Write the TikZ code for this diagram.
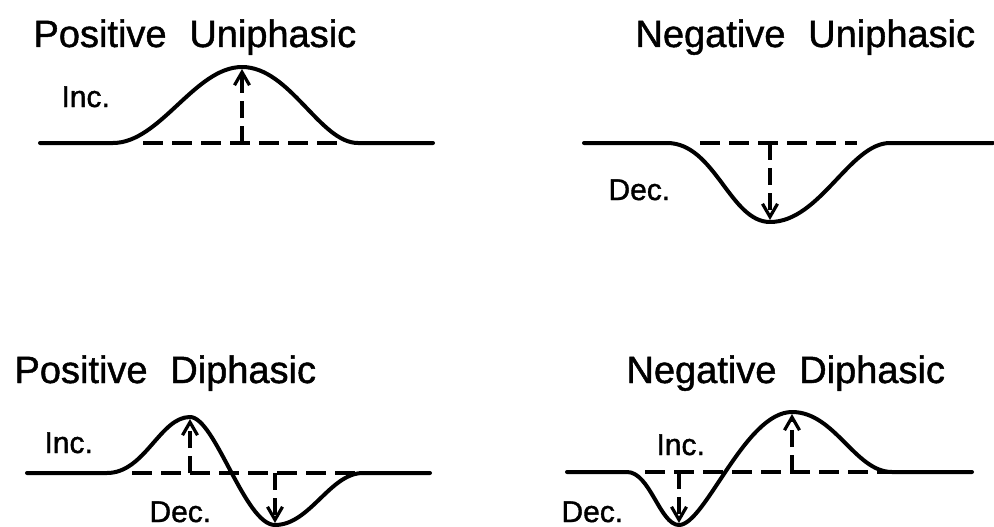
\documentclass[tikz,border=0pt]{standalone}
\usepackage{fontspec}
\setmainfont{Liberation Sans}[FakeBold=1.2]
\usetikzlibrary{arrows.meta,positioning}
\tikzset{every picture/.style={line width=3pt}}
\tikzset{
  trace/.style={line width=4pt,line join=round,line cap=round},
  zero/.style={line width=3.8pt,dash pattern=on 20pt off 9pt},
  amp/.style={line width=3.2pt,dash pattern=on 17pt off 8pt,
    -{Straight Barb[length=13pt,width=15pt,line width=3.2pt]}},
  title/.style={anchor=base west,inner sep=0pt,font=\fontsize{38}{44}\selectfont},
  lbl/.style={anchor=base west,inner sep=0pt,text depth=0pt,font=\fontsize{30}{34}\selectfont},
}

\begin{document}
\begin{tikzpicture}[x=1pt,y=-1pt]
    \useasboundingbox (0,0) rectangle (994,527);

    % Positive uniphasic
    \node[title] (pu-title) at (32,47) {Positive\hspace{0.6em}Uniphasic};
    \node[lbl] (pu-inc) at (60,107) {Inc.};
    \draw[trace] (40,143) -- (113,143)
        .. controls (160,143) and (195,67) .. (242,67)
        .. controls (290,67) and (320,143) .. (358,143) -- (433,143);
    \draw[zero] (143,143) -- (338,143);
    \coordinate (pu-base) at (242,143);
    \coordinate (pu-peak) at (242,69);
    \draw[amp] (pu-base) -- (pu-peak);

    % Negative uniphasic
    \node[title] (nu-title) at (634,47) {Negative\hspace{0.6em}Uniphasic};
    \node[lbl] (nu-dec) at (607,200) {Dec.};
    \draw[trace] (584,143) -- (667,143)
        .. controls (715,143) and (730,222) .. (770,222)
        .. controls (820,222) and (850,143) .. (890,143) -- (993,143);
    \draw[zero] (700,143) -- (857,143);
    \coordinate (nu-base) at (770,143);
    \coordinate (nu-peak) at (770,220);
    \draw[amp] (nu-base) -- (nu-peak);

    % Positive diphasic
    \node[title] (pd-title) at (13,383) {Positive\hspace{0.6em}Diphasic};
    \node[lbl] (pd-inc) at (43,453) {Inc.};
    \node[lbl] (pd-dec) at (148,522) {Dec.};
    \draw[trace] (27,473) -- (107,473)
        .. controls (145,473) and (160,417) .. (190,417)
        .. controls (215,417) and (245,525) .. (275,525)
        .. controls (310,525) and (330,473) .. (363,473) -- (430,473);
    \draw[zero] (132,473) -- (357,473);
    \coordinate (pd-base1) at (190,473);
    \coordinate (pd-peak1) at (190,419);
    \coordinate (pd-base2) at (275,473);
    \coordinate (pd-peak2) at (275,523);
    \draw[amp] (pd-base1) -- (pd-peak1);
    \draw[amp] (pd-base2) -- (pd-peak2);

    % Negative diphasic
    \node[title] (nd-title) at (625,383) {Negative\hspace{0.6em}Diphasic};
    \node[lbl] (nd-inc) at (655,455) {Inc.};
    \node[lbl] (nd-dec) at (560,522) {Dec.};
    \draw[trace] (567,472) -- (627,472)
        .. controls (650,472) and (660,525) .. (679,525)
        .. controls (705,525) and (745,412) .. (792,412)
        .. controls (835,412) and (855,472) .. (892,472) -- (972,472);
    \draw[zero] (645,472) -- (890,472);
    \coordinate (nd-base1) at (679,472);
    \coordinate (nd-peak1) at (679,523);
    \coordinate (nd-base2) at (792,472);
    \coordinate (nd-peak2) at (792,414);
    \draw[amp] (nd-base1) -- (nd-peak1);
    \draw[amp] (nd-base2) -- (nd-peak2);
\end{tikzpicture}
\end{document}
